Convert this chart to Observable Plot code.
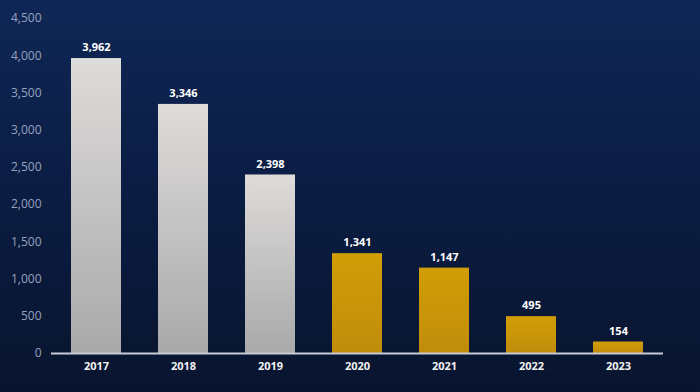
<!DOCTYPE html>
<html><head><meta charset="utf-8">
<script src="https://cdn.jsdelivr.net/npm/d3@7"></script>
<script src="https://cdn.jsdelivr.net/npm/@observablehq/plot@0.6"></script>
<style>
html,body{margin:0;padding:0;}
body{width:700px;height:392px;overflow:hidden;background:linear-gradient(180deg,#0f2756 0%,#0b1d44 45%,#09152f 100%);font-family:"Open Sans",Lato,sans-serif;}
#chart{position:absolute;left:0;top:0;}
</style></head><body>
<div id="chart"></div>
<script>
const years = ["2017","2018","2019","2020","2021","2022","2023"];
const values = [3962, 3346, 2398, 1341, 1147, 495, 154];
const groups = ["grey","grey","grey","gold","gold","gold","gold"];
const yTicks = [0,500,1000,1500,2000,2500,3000,3500,4000,4500];

const data = years.map((y,i)=>({year:y, value:values[i], group:groups[i]}));

const plot = Plot.plot({
  width:700, height:392,
  marginLeft:51, marginRight:37, marginTop:18, marginBottom:39,
  style:{background:"transparent", fontFamily:"'Open Sans', Lato, sans-serif"},
  x:{domain:years, paddingInner:0.42, paddingOuter:0.21, label:null},
  y:{domain:[0,4500], ticks:yTicks, label:null, tickFormat:d3.format(",")},
  marks:[
    Plot.axisY({ticks:yTicks, tickSize:0, tickPadding:10, fontSize:12, color:"#97a2bf", tickFormat:d3.format(","), label:null}),
    Plot.axisX({tickSize:0, tickPadding:9, fontSize:11, fontWeight:"bold", color:"#f2f2f2", label:null}),
    Plot.barY(data, {x:"year", y:"value", fill:d=> d.group==="grey" ? "url(#gGrey)" : "url(#gGold)"}),
    Plot.ruleY([0], {stroke:"#c9ccd6", strokeWidth:2}),
    Plot.text(data, {x:"year", y:"value", text:d=>d3.format(",")(d.value), dy:-11, fill:"white", fontWeight:"bold", fontSize:11})
  ]
});
const ns="http://www.w3.org/2000/svg";
const defs=document.createElementNS(ns,"defs");
defs.innerHTML = `
<linearGradient id="gGrey" x1="0" y1="0" x2="0" y2="1">
 <stop offset="0" stop-color="#dedcda"/><stop offset="1" stop-color="#a9a9ab"/>
</linearGradient>
<linearGradient id="gGold" x1="0" y1="0" x2="0" y2="1">
 <stop offset="0" stop-color="#d29d06"/><stop offset="1" stop-color="#c08d0c"/>
</linearGradient>`;
plot.insertBefore(defs, plot.firstChild);
document.getElementById("chart").appendChild(plot);
</script>
</body></html>
